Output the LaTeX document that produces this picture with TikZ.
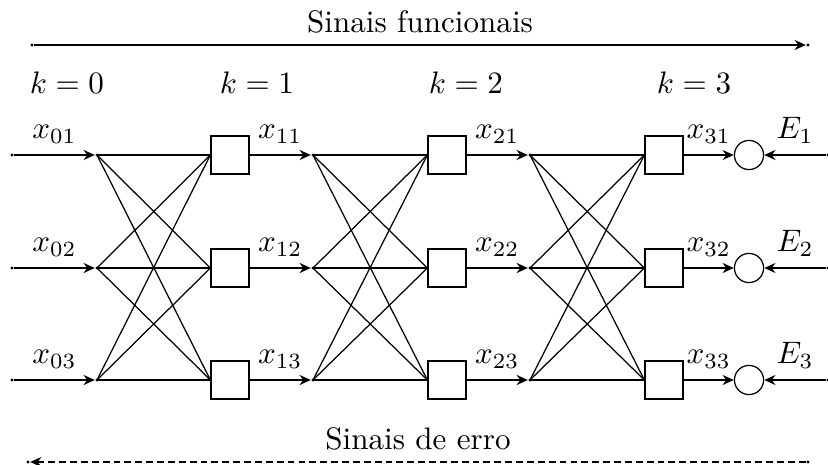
\documentclass[tikz,border=0pt]{standalone}
\usepackage{amsmath,amssymb}
\usepackage{tikz}
\usetikzlibrary{arrows.meta,positioning}

\begin{document}
\begin{tikzpicture}[x=0.0113cm,y=-0.0113cm,>={Stealth[length=3.6pt,width=3.2pt]},
 blk/.style={draw,minimum size=.43cm,inner sep=0pt},
 sumcirc/.style={draw,circle,minimum size=.33cm,inner sep=0pt},
 pt/.style={circle,fill,inner sep=.35pt}]
 \useasboundingbox (0,0) rectangle (828,465);
 % camadas
 \foreach \i/\y in {1/155,2/268,3/380}{
  \node[pt] (s\i) at (12,\y) {};
  \node[pt] (a\i) at (97,\y) {};
  \node[blk] (b\i) at (230,\y) {};
  \node[pt] (p\i) at (313,\y) {};
  \node[blk] (c\i) at (447,\y) {};
  \node[pt] (q\i) at (530,\y) {};
  \node[blk] (d\i) at (664,\y) {};
  \node[sumcirc] (e\i) at (749,\y) {};
  \node[pt] (r\i) at (828,\y) {};
  \draw[thick,->] (s\i)--node[above]{$x_{0\i}$}(a\i);
  \draw[thick,->] (b\i)--node[above]{$x_{1\i}$}(p\i);
  \draw[thick,->] (c\i)--node[above]{$x_{2\i}$}(q\i);
  \draw[thick,->] (d\i)--node[above]{$x_{3\i}$}(e\i);
  \draw[thick,->] (r\i)--node[above]{$E_\i$}(e\i);
 }
 \foreach \i in {1,2,3}{\foreach \j in {1,2,3}{
  \draw (a\i.center)--(b\j.west);
  \draw (p\i.center)--(c\j.west);
  \draw (q\i.center)--(d\j.west);}}
 \node (k0) at (67,83) {$k=0$};
 \node (k1) at (257,83) {$k=1$};
 \node (k2) at (466,83) {$k=2$};
 \node (k3) at (694,83) {$k=3$};
 \node[pt] (fa) at (32,45) {};\node[pt] (fb) at (808,45) {};
 \draw[thick,->] (fa)--node[above]{Sinais funcionais}(fb);
 \node[pt] (ea) at (28,462) {};\node[pt] (eb) at (808,462) {};
 \draw[thick,dash pattern=on 2.2pt off 1.3pt,->] (eb)--node[above]{Sinais de erro}(ea);
\end{tikzpicture}
\end{document}
